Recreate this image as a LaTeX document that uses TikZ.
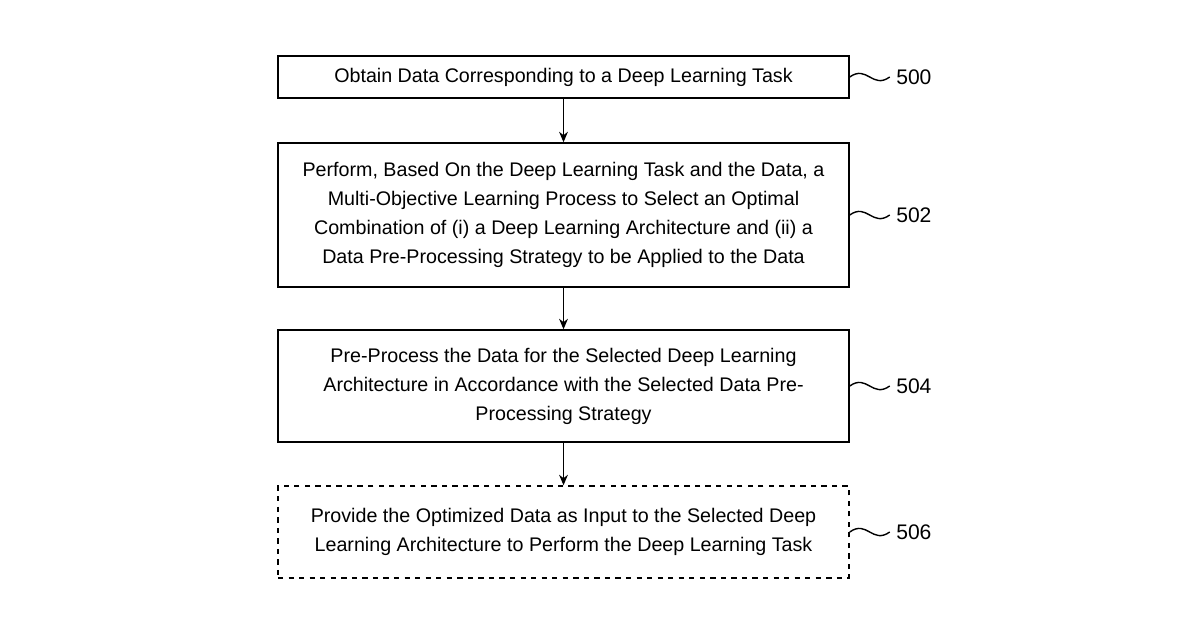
\documentclass[tikz,border=0pt]{standalone}
\usepackage{fontspec}
\setmainfont{Liberation Sans}
\usetikzlibrary{positioning,arrows.meta}
\tikzset{
  stepbox/.style={draw,thick,minimum width=11.42cm,align=center,font=\fontsize{11.2}{16.5}\selectfont},
  flow/.style={-{Stealth[length=6pt,width=5pt]},thick},
  refnum/.style={font=\fontsize{12}{14}\selectfont,anchor=west}
}
\newcommand{\squig}[2]{%
  \draw[thick] (#1.east) .. controls ++(0.35,0.25) and ++(-0.35,-0.25) .. ++(0.8,0) node[refnum] {#2};}
\begin{document}
\begin{tikzpicture}
\useasboundingbox (0,0) rectangle (24,-12.6);
\node[stepbox,minimum height=0.84cm] (s500) at (11.27,-1.54) {Obtain Data Corresponding to a Deep Learning Task};
\node[stepbox,minimum height=2.88cm] (s502) at (11.27,-4.3) {Perform, Based On the Deep Learning Task and the Data, a\\Multi-Objective Learning Process to Select an Optimal\\Combination of (i) a Deep Learning Architecture and (ii) a\\Data Pre-Processing Strategy to be Applied to the Data};
\node[stepbox,minimum height=2.24cm] (s504) at (11.27,-7.72) {Pre-Process the Data for the Selected Deep Learning\\Architecture in Accordance with the Selected Data Pre-\\Processing Strategy};
\node[stepbox,dashed,minimum height=1.84cm] (s506) at (11.27,-10.64) {Provide the Optimized Data as Input to the Selected Deep\\Learning Architecture to Perform the Deep Learning Task};
% connectors
\draw[flow] (s500) -- (s502);
\draw[flow] (s502) -- (s504);
\draw[flow] (s504) -- (s506);
% reference numerals
\squig{s500}{500}
\squig{s502}{502}
\squig{s504}{504}
\squig{s506}{506}
\end{tikzpicture}
\end{document}
